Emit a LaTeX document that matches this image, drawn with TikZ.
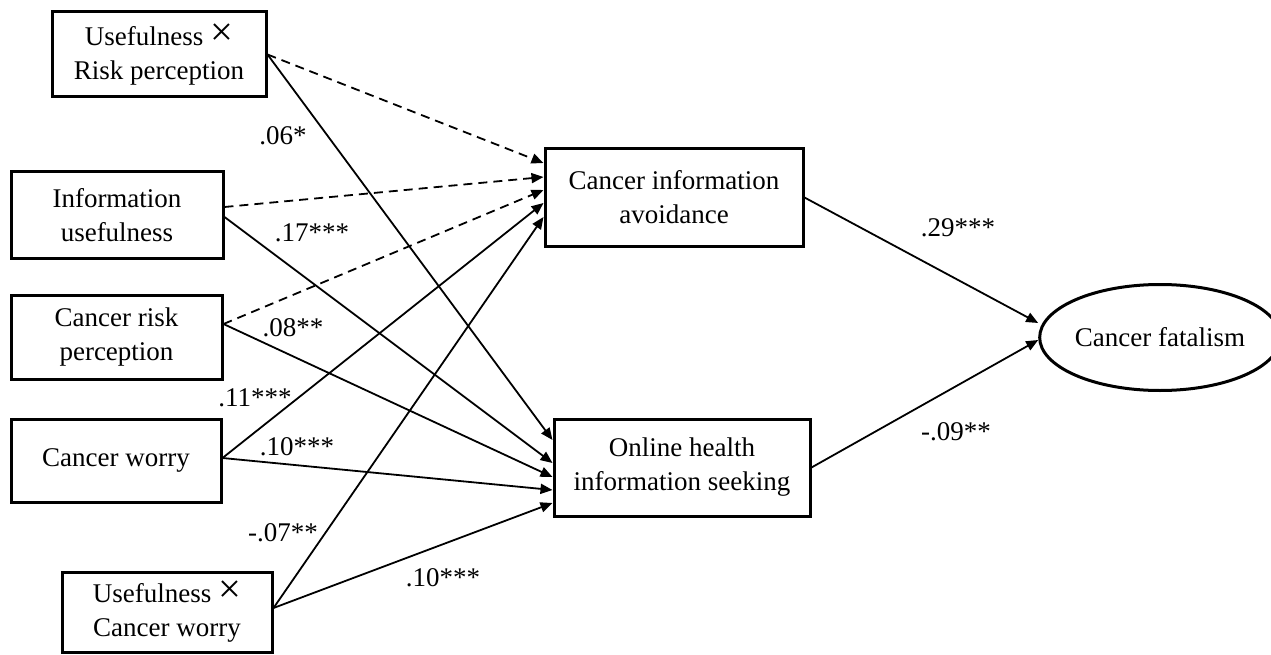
\documentclass[tikz,border=0pt]{standalone}
\usepackage{fontspec}
\usepackage{graphicx}
\setmainfont{Liberation Serif}
\usetikzlibrary{shapes.geometric,arrows.meta}
\newcommand{\bigtimes}{\scalebox{1.5}{\texttimes}}
\begin{document}
\begin{tikzpicture}[x=1pt,y=-1pt,
  every node/.style={font=\fontsize{27}{34}\selectfont, align=center},
  box/.style={draw, line width=3pt, inner sep=0pt, rectangle},
  oval/.style={draw, line width=3pt, inner sep=0pt, ellipse},
  arr/.style={line width=1.8pt, -{Triangle[length=12pt,width=10pt]}},
  dsh/.style={arr, dash pattern=on 9pt off 6pt},
  lbl/.style={inner sep=0pt}]
\useasboundingbox (0,0) rectangle (1271,655);
% sources
\node[box, minimum width=214pt, minimum height=85pt] (urp) at (159,54.5) {Usefulness \bigtimes\\Risk perception};
\node[box, minimum width=212pt, minimum height=86pt] (iu) at (117,215) {Information\\usefulness};
\node[box, minimum width=211pt, minimum height=84pt] (crp) at (116.5,337) {Cancer risk\\perception};
\node[box, minimum width=210pt, minimum height=83pt] (cw) at (116,460.5) {Cancer worry};
\node[box, minimum width=210pt, minimum height=80pt] (uw) at (167,612) {Usefulness \bigtimes\\Cancer worry};
% mediators
\node[box, minimum width=258pt, minimum height=97pt] (cia) at (674,197.5) {Cancer information\\avoidance};
\node[box, minimum width=256pt, minimum height=97pt] (ohis) at (682,467.5) {Online health\\information seeking};
% outcome
\node[oval, minimum width=216pt, minimum height=106pt] (cf) at (1160,337.5) {Cancer fatalism};
% paths to avoidance
\draw[dsh] (urp.east) -- ([yshift=34.5pt]cia.west);
\draw[dsh] ([yshift=8pt]iu.east) -- ([yshift=20.5pt]cia.west);
\draw[dsh] ([yshift=13pt]crp.east) -- ([yshift=7.5pt]cia.west);
\draw[arr] ([yshift=2.5pt]cw.east) -- ([yshift=-5.5pt]cia.west);
\draw[arr] ([yshift=4pt]uw.east) -- ([yshift=-19.5pt]cia.west);
% paths to seeking
\draw[arr] (urp.east) -- ([yshift=27.5pt]ohis.west);
\draw[arr] ([yshift=-2pt]iu.east) -- ([yshift=4.5pt]ohis.west);
\draw[arr] ([yshift=13pt]crp.east) -- ([yshift=-9.5pt]ohis.west);
\draw[arr] ([yshift=2.5pt]cw.east) -- ([yshift=-22.5pt]ohis.west);
\draw[arr] ([yshift=4pt]uw.east) -- ([yshift=-35.5pt]ohis.west);
% to outcome
\draw[arr] (cia.east) -- ([yshift=14.5pt]cf.west);
\draw[arr] (ohis.east) -- ([yshift=-2.5pt]cf.west);
% labels
\node[lbl] (l1) at (283,136) {.06*};
\node[lbl] (l2) at (312,233) {.17***};
\node[lbl] (l3) at (293,328) {.08**};
\node[lbl] (l4) at (255,398) {.11***};
\node[lbl] (l5) at (297,447) {.10***};
\node[lbl] (l6) at (283,533) {-.07**};
\node[lbl] (l7) at (443,578) {.10***};
\node[lbl] (l8) at (958,228) {.29***};
\node[lbl] (l9) at (956,432) {-.09**};
\end{tikzpicture}
\end{document}
